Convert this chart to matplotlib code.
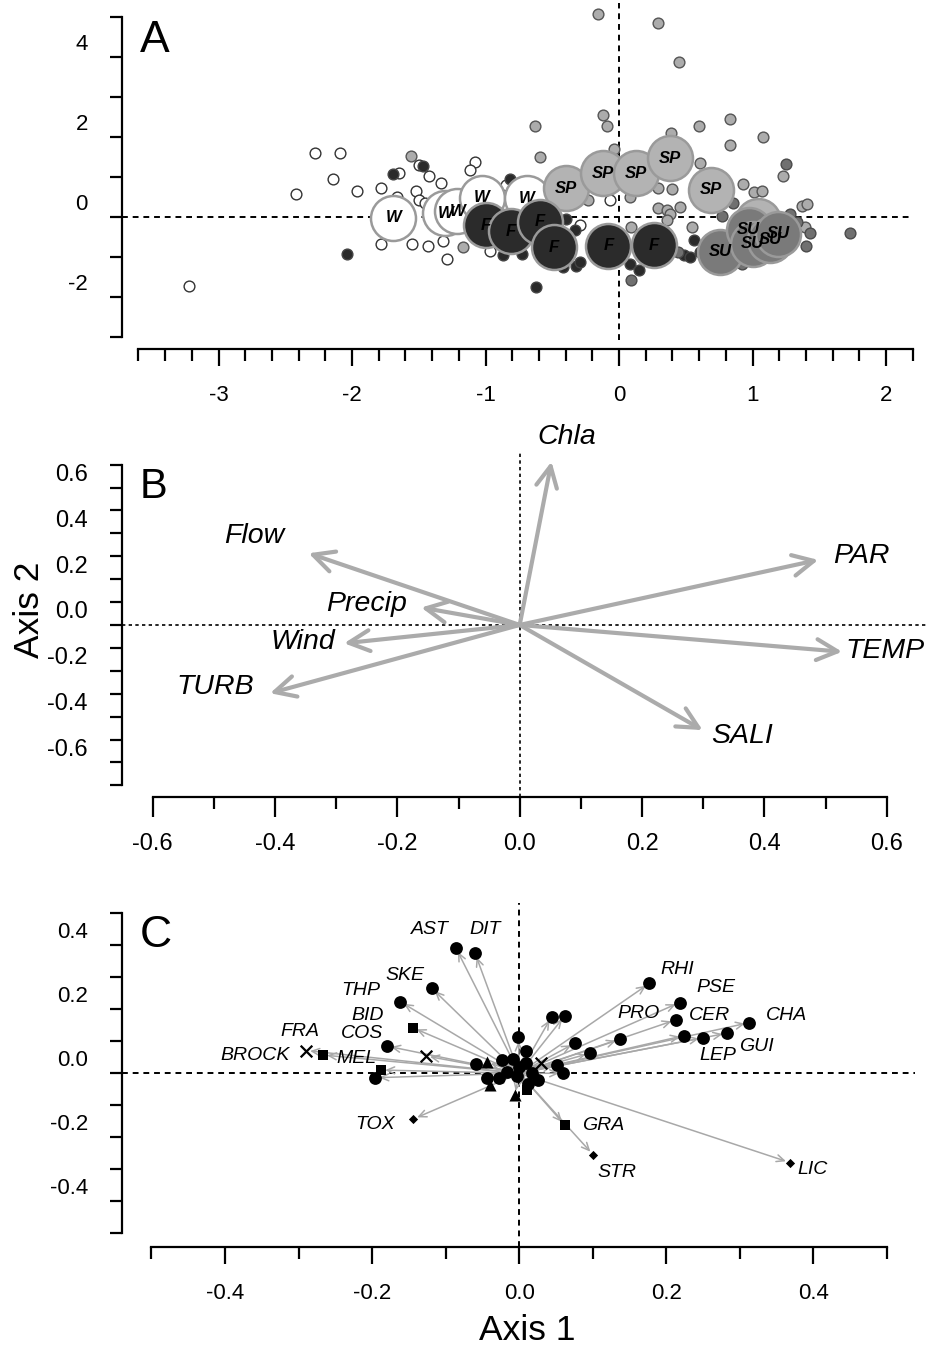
import matplotlib
matplotlib.use("Agg")
import matplotlib.pyplot as plt
from matplotlib.transforms import ScaledTranslation
import numpy as np

plt.rcParams['font.family'] = ['Liberation Sans', 'DejaVu Sans']

# ---------------- Panel A : sample scores by season ----------------
# small points (individual samples)
w_x = [-3.22, -2.42, -2.28, -2.09, -2.14, -1.96, -1.78, -1.65, -1.50, -1.42, -1.33, -1.52, -1.50,
       -1.45, -1.37, -1.08, -1.12, -0.85, -1.78, -1.55, -1.43, -1.32, -1.29, -0.97, -0.29, -0.07, -1.66]
w_y = [-1.73, 0.58, 1.59, 1.59, 0.94, 0.64, 0.73, 1.09, 1.29, 1.03, 0.85, 0.65, 0.43,
       0.34, 0.42, 1.37, 1.17, 0.79, -0.68, -0.69, -0.73, -0.60, -1.05, -0.85, -0.21, 0.42, 0.50]
f_x = [-2.04, -1.69, -1.47, -0.82, -0.87, -0.73, -0.62, -0.40, -0.42, -0.32, -0.33, 0.08, 0.15,
       0.49, 0.53, 0.56, 0.61, -0.57, -0.29]
f_y = [-0.93, 1.07, 1.27, 0.94, -0.96, -0.92, -1.76, -0.06, -1.25, -1.22, -0.33, -1.17, -1.33,
       -0.96, -1.00, -0.58, -0.88, -0.96, -1.13]
sp_x = [-1.56, -1.17, -0.63, -0.59, -0.23, -0.16, 0.29, 0.45, -0.12, -0.09, -0.04, 0.08, 0.29,
        0.40, 0.39, 0.60, 0.61, 0.83, 0.83, 1.08, 0.93, 1.01, 1.07, 1.23, 1.37, 1.41, 1.39,
        0.29, 0.36, 0.38, 0.46, 0.36, 0.55, 0.09]
sp_y = [1.52, -0.76, 2.26, 1.48, 0.41, 5.06, 4.84, 3.87, 2.54, 2.27, 1.68, 0.50, 0.72,
        0.69, 2.09, 2.27, 1.34, 2.44, 1.80, 1.99, 0.82, 0.62, 0.64, 1.02, 0.26, 0.32, -0.25,
        0.21, 0.18, 0.07, 0.24, -0.08, -0.25, -0.25]
su_x = [1.25, 0.77, 1.73, 1.43, 1.40, 1.28, 0.85, 0.09, 0.92, 0.44, 1.33, 1.05, 1.15, 0.98, 1.20]
su_y = [1.32, 0.03, -0.40, -0.40, -0.72, 0.06, 0.34, -1.58, -1.17, -0.88, -0.13, -0.95, -0.90, -0.40, -0.75]

# big circles (monthly centroids)
cw_x = [-1.69, -1.30, -1.21, -1.03, -0.69]
cw_y = [-0.02, 0.09, 0.14, 0.48, 0.46]
csp_x = [-0.40, -0.12, 0.13, 0.38, 0.69, 1.04]
csp_y = [0.71, 1.09, 1.09, 1.46, 0.67, -0.11]
cf_x = [-1.00, -0.81, -0.59, -0.49, -0.08, 0.26]
cf_y = [-0.21, -0.36, -0.13, -0.76, -0.73, -0.71]
csu_x = [0.76, 0.97, 1.00, 1.13, 1.19]
csu_y = [-0.87, -0.33, -0.68, -0.58, -0.43]

# ---------------- Panel B : environmental vectors ----------------
env_names = ['Chla', 'PAR', 'TEMP', 'SALI', 'TURB', 'Wind', 'Precip', 'Flow']
env_x = [0.052, 0.488, 0.527, 0.299, -0.408, -0.287, -0.161, -0.345]
env_y = [0.713, 0.284, -0.117, -0.459, -0.298, -0.080, 0.076, 0.313]

# ---------------- Panel C : species vectors ----------------
sp_names = ['AST', 'DIT', 'SKE', 'THP', 'BID', 'COS', 'FRA', 'BROCK', 'MEL', 'TOX',
            'RHI', 'PSE', 'PRO', 'CER', 'CHA', 'GUI', 'LEP', 'GRA', 'STR', 'LIC',
            '', '', '', '', '', '', '', '', '', '',
            '', '', '', '', '', '', '', '', '', '', '', '', '', '', '', '', '', '']
spc_x = [-0.086, -0.060, -0.119, -0.162, -0.145, -0.180, -0.290, -0.267, -0.188, -0.144,
         0.177, 0.218, 0.137, 0.2125, 0.3125, 0.282, 0.250, 0.062, 0.1006, 0.368,
         -0.127, -0.196, -0.001, 0.044, 0.062, 0.0757, 0.096, 0.051, 0.060, 0.224,
         -0.059, -0.044, -0.044, -0.040, -0.006, 0.010, -0.024, -0.008, 0.009, 0.009,
         -0.017, -0.027, -0.003, 0.026, 0.017, 0.030, 0.000, 0.012]
spc_y = [0.391, 0.375, 0.266, 0.224, 0.1425, 0.085, 0.071, 0.057, 0.010, -0.143,
         0.281, 0.221, 0.106, 0.1666, 0.158, 0.125, 0.111, -0.162, -0.255, -0.279,
         0.054, -0.014, 0.1125, 0.177, 0.180, 0.094, 0.0625, 0.026, 0.000, 0.1175,
         0.029, 0.035, -0.016, -0.036, -0.068, -0.052, 0.042, 0.046, 0.068, 0.031,
         0.005, -0.015, -0.010, -0.021, 0.000, 0.031, 0.020, -0.035]
spc_mark = ['o', 'o', 'o', 'o', 's', 'o', 'x', 's', 's', 'D',
            'o', 'o', 'o', 'o', 'o', 'o', 'o', 's', 'D', 'D',
            'x', 'o', 'o', 'o', 'o', 'o', 'o', 'o', 'o', 'o',
            'o', '^', 'o', '^', '^', 's', 'o', 'o', 'o', 'o',
            'o', 'o', 'o', 'o', 'o', 'x', 'o', 'o']

# label placement (data coords) for panels B and C
env_lab = {'Chla': (0.077, 0.82), 'PAR': (0.559, 0.30), 'TEMP': (0.597, -0.114),
           'SALI': (0.363, -0.485), 'TURB': (-0.498, -0.271), 'Wind': (-0.354, -0.074),
           'Precip': (-0.251, 0.092), 'Flow': (-0.434, 0.389)}
spc_lab = {'AST': (-0.121, 0.448), 'DIT': (-0.047, 0.448), 'SKE': (-0.155, 0.307),
           'THP': (-0.215, 0.260), 'BID': (-0.206, 0.179), 'COS': (-0.214, 0.123),
           'FRA': (-0.298, 0.132), 'BROCK': (-0.359, 0.054), 'MEL': (-0.221, 0.045),
           'TOX': (-0.196, -0.161), 'RHI': (0.215, 0.323), 'PSE': (0.268, 0.267),
           'PRO': (0.162, 0.188), 'CER': (0.259, 0.179), 'CHA': (0.364, 0.179),
           'GUI': (0.322, 0.085), 'LEP': (0.270, 0.057), 'GRA': (0.114, -0.164),
           'STR': (0.133, -0.311), 'LIC': (0.399, -0.302)}

W, H = 929, 1347
fig = plt.figure(figsize=(W / 100, H / 100), dpi=100)


def px_axes(left, top, right, bottom):
    return fig.add_axes([left / W, 1 - bottom / H, (right - left) / W, (bottom - top) / H])


def r_style(ax, xb, yb, xmaj, xlab, xmin, yt, ylab, xout=0, fs=16, maj_len=12.2, min_len=8.6,
            xpad=14):
    for s in ['top', 'right']:
        ax.spines[s].set_visible(False)
    ax.spines['bottom'].set_position(('outward', xout))
    ax.spines['left'].set_bounds(*yb)
    ax.spines['bottom'].set_bounds(*xb)
    for s in ['left', 'bottom']:
        ax.spines[s].set_linewidth(1.6)
    ax.set_xticks(xmaj)
    ax.set_xticklabels(xlab)
    ax.set_xticks(xmin, minor=True)
    ax.set_yticks(yt)
    ax.set_yticklabels(ylab)
    ax.tick_params(axis='x', which='major', length=maj_len, width=1.6, pad=xpad, labelsize=fs)
    ax.tick_params(axis='x', which='minor', length=min_len, width=1.6)
    ax.tick_params(axis='y', length=8.6, width=1.6, pad=16, labelsize=fs)
    # y labels sit a little above their ticks in the original
    off = ScaledTranslation(0, 0.15, fig.dpi_scale_trans)
    for lab in ax.get_yticklabels():
        lab.set_transform(lab.get_transform() + off)


dash = (0, (3, 2.5))

# ---------- A ----------
axA = px_axes(122, 3, 913, 340)
axA.set_xlim(-3.723, 2.202)
axA.set_ylim(-3.08, 5.34)
axA.axhline(0, color='black', lw=1.4, ls=dash, zorder=1)
axA.axvline(0, color='black', lw=1.4, ls=dash, zorder=1)
ms = 60
axA.scatter(w_x, w_y, s=ms, facecolor='white', edgecolor='#333333', lw=1.0, zorder=2)
axA.scatter(f_x, f_y, s=ms, facecolor='#2a2a2a', edgecolor='#444444', lw=1.0, zorder=2)
axA.scatter(sp_x, sp_y, s=ms, facecolor='#acacac', edgecolor='#555555', lw=1.0, zorder=2)
axA.scatter(su_x, su_y, s=ms, facecolor='#707070', edgecolor='#4a4a4a', lw=1.0, zorder=2)

big = 1050
groups = [(cw_x, cw_y, 'white', 'W', 3), (csp_x, csp_y, '#b3b3b3', 'SP', 4),
          (cf_x, cf_y, '#2b2b2b', 'F', 5), (csu_x, csu_y, '#7a7a7a', 'SU', 6)]
for gx, gy, col, lab, z in groups:
    axA.scatter(gx, gy, s=big, facecolor=col, edgecolor='#9a9a9a', lw=1.8, zorder=z)
    for xx, yy in zip(gx, gy):
        axA.text(xx, yy, lab, ha='center', va='center', fontsize=12, fontweight='bold',
                 fontstyle='italic', color='black', zorder=z + 0.5)

r_style(axA, (-3.6, 2.2), (-3, 5),
        [-3, -2, -1, 0, 1, 2], ['-3', '-2', '-1', '0', '1', '2'],
        [v for v in np.round(np.arange(-3.6, 2.21, 0.2), 1) if abs(v - round(v)) > 1e-6],
        list(range(-3, 6)), ['', '-2', '', '0', '', '2', '', '4', ''],
        xout=6.5)

# ---------- B ----------
axB = px_axes(122, 452, 929, 797)
axB.set_xlim(-0.650, 0.669)
axB.set_ylim(-0.751, 0.755)
axB.axhline(0, color='black', lw=1.2, ls=(0, (2, 2)), zorder=1)
axB.axvline(0, color='black', lw=1.2, ls=(0, (2, 2)), zorder=1)
for name, ex, ey in zip(env_names, env_x, env_y):
    axB.annotate('', xy=(ex, ey), xytext=(0, 0),
                 arrowprops=dict(arrowstyle='->,head_length=1.5,head_width=0.75',
                                 color='#ababab', lw=3.0, shrinkA=0, shrinkB=0), zorder=2)
    lx, ly = env_lab[name]
    axB.text(lx, ly, name, ha='center', va='center', fontsize=20.5, fontstyle='italic', zorder=3)

r_style(axB, (-0.6, 0.6), (-0.7, 0.7),
        [-0.6, -0.4, -0.2, 0.0, 0.2, 0.4, 0.6], ['-0.6', '-0.4', '-0.2', '0.0', '0.2', '0.4', '0.6'],
        [-0.5, -0.3, -0.1, 0.1, 0.3, 0.5],
        list(np.round(np.arange(-0.7, 0.71, 0.1), 1)),
        ['', '-0.6', '', '-0.4', '', '-0.2', '', '0.0', '', '0.2', '', '0.4', '', '0.6', ''],
        fs=17, maj_len=14.4, min_len=8.4, xpad=11.5)

# ---------- C ----------
axC = px_axes(122, 903, 915, 1246.7)
axC.set_xlim(-0.540, 0.538)
axC.set_ylim(-0.542, 0.532)
axC.axhline(0, color='black', lw=1.4, ls=dash, zorder=1)
axC.axvline(0, color='black', lw=1.4, ls=dash, zorder=1)
for sx, sy in zip(spc_x, spc_y):
    axC.annotate('', xy=(sx, sy), xytext=(0, 0),
                 arrowprops=dict(arrowstyle='->,head_length=0.55,head_width=0.25',
                                 color='#a8a8a8', lw=1.1, shrinkA=0, shrinkB=3), zorder=2)
msize = {'o': 85, 's': 50, 'D': 22, '^': 75, 'x': 70}
for m in ['o', 's', 'D', '^', 'x']:
    xs = [x for x, mm in zip(spc_x, spc_mark) if mm == m]
    ys = [y for y, mm in zip(spc_y, spc_mark) if mm == m]
    axC.scatter(xs, ys, s=msize[m], marker=m, color='black', lw=1.6 if m == 'x' else 0, zorder=3)
for name in sp_names:
    if name:
        lx, ly = spc_lab[name]
        axC.text(lx, ly, name, ha='center', va='center', fontsize=14, fontstyle='italic', zorder=4)

r_style(axC, (-0.5, 0.5), (-0.5, 0.5),
        [-0.4, -0.2, 0.0, 0.2, 0.4], ['-0.4', '-0.2', '0.0', '0.2', '0.4'],
        [-0.5, -0.3, -0.1, 0.1, 0.3, 0.5],
        list(np.round(np.arange(-0.5, 0.51, 0.1), 1)),
        ['', '-0.4', '', '-0.2', '', '0.0', '', '0.2', '', '0.4', ''])

# panel letters and axis titles
for lab, ypx, fs in [('A', 52, 32), ('B', 498, 30), ('C', 947, 32)]:
    fig.text(140 / W, 1 - ypx / H, lab, fontsize=fs, ha='left', va='baseline')
fig.text(527 / W, 1 - 1340 / H, 'Axis 1', fontsize=25.5, ha='center', va='baseline')
fig.text(30 / W, 1 - 610 / H, 'Axis 2', fontsize=25.5, ha='center', va='center', rotation=90)

fig.savefig('out.png', dpi=100)
